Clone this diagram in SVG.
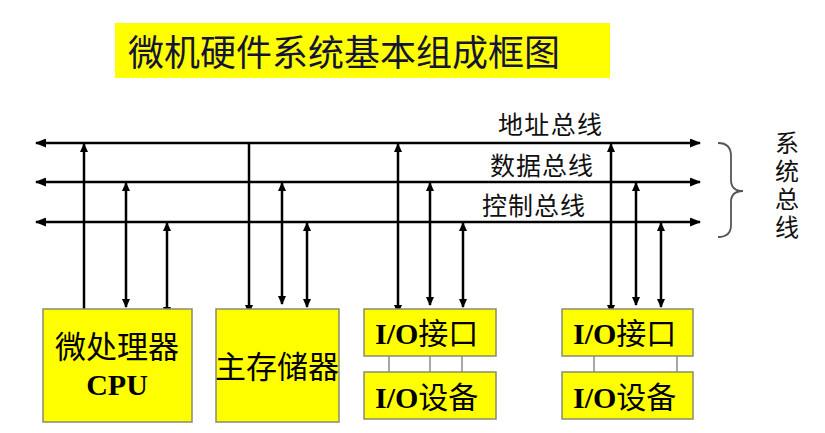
<svg xmlns="http://www.w3.org/2000/svg" width="825" height="433" viewBox="0 0 825 433">
<defs>
<style>
.bus{stroke:#000;stroke-width:2.5;fill:none}
.v{stroke:#000;stroke-width:2.5;fill:none}
.box{fill:#ffff00;stroke:#8a8a70;stroke-width:1.5}
.link{stroke:#8a8a8a;stroke-width:1.5}
.cjk{font-family:"Noto Sans CJK SC","Noto Sans",sans-serif;fill:#000}
.lat{font-family:"Liberation Serif",serif;font-weight:bold}
.lbl{font-family:"Noto Sans CJK SC","Noto Sans",sans-serif;font-size:25px;fill:#111}
</style>
<marker id="ah" markerUnits="userSpaceOnUse" markerWidth="11" markerHeight="9" refX="10" refY="4.5" orient="auto-start-reverse" viewBox="0 0 11 9">
<path d="M0,0 L11,4.5 L0,9 z" fill="#000"/>
</marker>
<marker id="av" markerUnits="userSpaceOnUse" markerWidth="9" markerHeight="8" refX="8" refY="4" orient="auto-start-reverse" viewBox="0 0 9 8">
<path d="M0,0 L9,4 L0,8 z" fill="#000"/>
</marker>
</defs>
<rect width="825" height="433" fill="#fff"/>

<g id="title">
<rect x="115" y="23" width="495" height="55" fill="#ffff00"/>
<text x="128" y="66" class="cjk" font-size="36" style="fill:#141438">微机硬件系统基本组成框图</text>
</g>

<g id="connectors">
<line class="bus" x1="36" y1="143" x2="700" y2="143" marker-start="url(#ah)" marker-end="url(#ah)"/>
<line class="bus" x1="36" y1="182" x2="700" y2="182" marker-start="url(#ah)" marker-end="url(#ah)"/>
<line class="bus" x1="36" y1="222" x2="700" y2="222" marker-start="url(#ah)" marker-end="url(#ah)"/>
<line class="v" x1="84" y1="313" x2="84" y2="144" marker-end="url(#av)"/>
<line class="v" x1="126" y1="183" x2="126" y2="307" marker-start="url(#av)" marker-end="url(#av)"/>
<line class="v" x1="167" y1="223" x2="167" y2="315" marker-start="url(#av)" marker-end="url(#av)"/>
<line class="v" x1="249" y1="142" x2="249" y2="313" marker-end="url(#av)"/>
<line class="v" x1="282" y1="183" x2="282" y2="304" marker-start="url(#av)" marker-end="url(#av)"/>
<line class="v" x1="307" y1="223" x2="307" y2="307" marker-start="url(#av)" marker-end="url(#av)"/>
<line class="v" x1="398" y1="144" x2="398" y2="313" marker-start="url(#av)" marker-end="url(#av)"/>
<line class="v" x1="430" y1="183" x2="430" y2="305" marker-start="url(#av)" marker-end="url(#av)"/>
<line class="v" x1="463" y1="223" x2="463" y2="307" marker-start="url(#av)" marker-end="url(#av)"/>
<line class="v" x1="611" y1="144" x2="611" y2="313" marker-start="url(#av)" marker-end="url(#av)"/>
<line class="v" x1="636" y1="183" x2="636" y2="305" marker-start="url(#av)" marker-end="url(#av)"/>
<line class="v" x1="661" y1="223" x2="661" y2="307" marker-start="url(#av)" marker-end="url(#av)"/>
<line class="link" x1="389" y1="356" x2="389" y2="372"/>
<line class="link" x1="430" y1="356" x2="430" y2="372"/>
<line class="link" x1="462" y1="356" x2="462" y2="372"/>
<line class="link" x1="594" y1="356" x2="594" y2="372"/>
<line class="link" x1="677" y1="356" x2="677" y2="372"/>
</g>

<g id="bus-labels">
<text x="498" y="134" class="lbl" textLength="104">地址总线</text>
<text x="490" y="175" class="lbl" textLength="103">数据总线</text>
<text x="482" y="215" class="lbl" textLength="103">控制总线</text>
</g>

<g id="system-bus">
<path d="M718,143 Q731,143 731,156 L731,180 Q731,191 743,191 Q731,191 731,202 L731,225 Q731,237 718,237" fill="none" stroke="#555" stroke-width="1.8"/>
<text class="lbl" x="787" y="131" writing-mode="tb" letter-spacing="4" font-size="24" style="font-size:24px">系统总线</text>
</g>

<g id="cpu">
<rect class="box" x="43" y="309" width="149" height="113"/>
<text x="117" y="358" class="cjk" font-size="31" text-anchor="middle">微处理器</text>
<text x="117" y="395" class="lat" font-size="30" text-anchor="middle">CPU</text>
</g>

<g id="memory">
<rect class="box" x="216" y="309" width="123" height="113"/>
<text x="277" y="378" class="cjk" font-size="31" text-anchor="middle">主存储器</text>
</g>

<g id="io-interface-1">
<rect class="box" x="364" y="309" width="132" height="47"/>
<text x="375" y="344" font-size="30"><tspan class="lat">I/O</tspan><tspan class="cjk">接口</tspan></text>
</g>
<g id="io-device-1">
<rect class="box" x="364" y="372" width="132" height="47"/>
<text x="375" y="408" font-size="30"><tspan class="lat">I/O</tspan><tspan class="cjk">设备</tspan></text>
</g>

<g id="io-interface-2">
<rect class="box" x="562" y="309" width="131" height="47"/>
<text x="573" y="344" font-size="30"><tspan class="lat">I/O</tspan><tspan class="cjk">接口</tspan></text>
</g>
<g id="io-device-2">
<rect class="box" x="562" y="372" width="131" height="47"/>
<text x="573" y="408" font-size="30"><tspan class="lat">I/O</tspan><tspan class="cjk">设备</tspan></text>
</g>
</svg>
